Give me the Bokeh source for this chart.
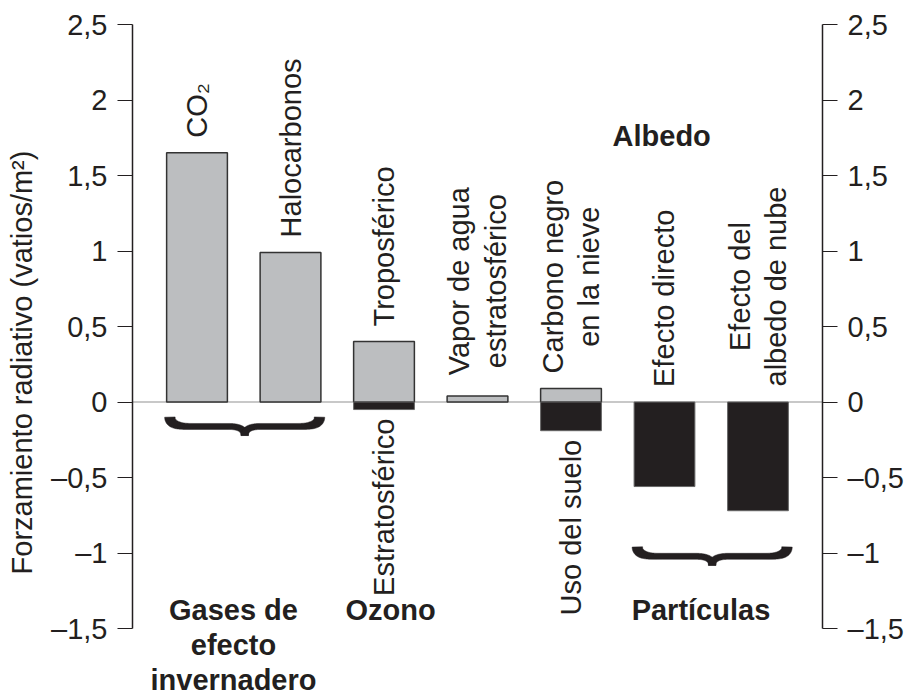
import numpy as np
from bokeh.plotting import figure
from bokeh.models import Range1d, LinearAxis, FixedTicker, Span
from bokeh.core.properties import value
from bokeh.embed import file_html
from bokeh.resources import INLINE

# ---------------- data ----------------
positions = [0, 1, 2, 3, 4, 5, 6]
warming = [1.65, 0.99, 0.40, 0.04, 0.09, 0.0, 0.0]      # grey bars (W/m2)
cooling = [0.0, 0.0, -0.05, 0.0, -0.19, -0.56, -0.72]   # black bars (W/m2)
upper_labels = ["CO₂", "Halocarbonos", "Troposférico", "Vapor de agua\nestratosférico",
                "Carbono negro\nen la nieve", "Efecto directo", "Efecto del\nalbedo de nube"]
lower_labels = ["", "", "Estratosférico", "", "Uso del suelo", "", ""]
group_names = ["Gases de\nefecto\ninvernadero", "Ozono", "Partículas"]
group_first = [0, 2, 5]
group_last = [1, 2, 6]
heading = "Albedo"
tick_values = [-1.5, -1.0, -0.5, 0.0, 0.5, 1.0, 1.5, 2.0, 2.5]
tick_labels = ["–1,5", "–1", "–0,5", "0", "0,5", "1", "1,5", "2", "2,5"]
y_title = "Forzamiento radiativo (vatios/m²)"

# ---------------- layout / style ----------------
INK = "#231f20"
GREY = "#bcbec0"
FONT = "Liberation Sans"
FS = "29px"
W, H = 906, 700
BL, BT, BB = 132, 24, 0
BR = W - 822
X0, X1 = -0.69, 6.69
Y1 = 2.5
PXU = 151.0
Y0 = Y1 - (H - BT - BB) / PXU
BAR_W = 0.65
PAD = 0.10
multi_centers = {3: 0.80, 4: 0.83, 6: 0.765}   # centre of two-line labels
group_label_x = [0.39, 2.07, 5.39]
group_label_y = -1.27
brace_top = {0: -0.10, 2: -0.96}
heading_xy = (4.97, 1.76)

p = figure(width=W, height=H, x_range=Range1d(X0, X1), y_range=Range1d(Y0, Y1),
           output_backend="svg", toolbar_location=None, x_axis_location=None,
           y_axis_location="left", min_border_left=BL, min_border_right=BR,
           min_border_top=BT, min_border_bottom=BB)
p.grid.visible = False
p.outline_line_color = None


def style_axis(ax):
    ax.ticker = FixedTicker(ticks=tick_values)
    ax.major_label_overrides = {v: l for v, l in zip(tick_values, tick_labels)}
    ax.bounds = (-1.5, 2.5)
    ax.axis_line_color = INK
    ax.axis_line_width = 1.5
    ax.major_tick_line_color = INK
    ax.major_tick_line_width = 1.2
    ax.major_tick_in = 0
    ax.major_tick_out = 15
    ax.minor_tick_line_color = None
    ax.major_label_standoff = 10
    ax.major_label_text_font = FONT
    ax.major_label_text_font_size = FS
    ax.major_label_text_color = INK


left = p.yaxis[0]
style_axis(left)
left.axis_label = y_title
left.axis_label_text_font = FONT
left.axis_label_text_font_size = FS
left.axis_label_text_font_style = "normal"
left.axis_label_text_color = INK
left.axis_label_standoff = 10

right = LinearAxis()
style_axis(right)
p.add_layout(right, "right")

p.add_layout(Span(location=0, dimension="width", line_color="#c8c8c8",
                  line_width=2, level="underlay"))

# bars
wx = [x for x, v in zip(positions, warming) if v != 0]
wv = [v for v in warming if v != 0]
p.vbar(x=wx, top=wv, bottom=0, width=BAR_W, fill_color=GREY,
       line_color="#333333", line_width=1.5)
cx = [x for x, v in zip(positions, cooling) if v != 0]
cv = [v for v in cooling if v != 0]
p.vbar(x=cx, top=0, bottom=cv, width=BAR_W, fill_color=INK,
       line_color="#666666", line_width=1)

# rotated labels above bars
s_x, s_y, s_t = [], [], []
m_x, m_y, m_t = [], [], []
for i, lab in enumerate(upper_labels):
    if "\n" in lab:
        m_x.append(positions[i]); m_y.append(multi_centers[i]); m_t.append(lab)
    else:
        s_x.append(positions[i]); s_y.append(max(warming[i], 0) + PAD); s_t.append(lab)
common = dict(angle=np.pi / 2, text_font=value(FONT), text_font_size=FS,
              text_color=INK, text_baseline="middle")
p.text(x=s_x, y=s_y, text=s_t, text_align="left", **common)
p.text(x=m_x, y=m_y, text=m_t, text_align="center", text_line_height=1.14, **common)

# rotated labels below bars
l_x = [positions[i] for i, t in enumerate(lower_labels) if t]
l_y = [cooling[i] - 0.06 for i, t in enumerate(lower_labels) if t]
l_t = [t for t in lower_labels if t]
p.text(x=l_x, y=l_y, text=l_t, text_align="right", **common)

# group labels
p.text(x=group_label_x, y=[group_label_y] * len(group_names), text=group_names,
       text_align="center", text_baseline="top", text_font=value(FONT),
       text_font_size=FS, text_font_style="bold", text_color=INK,
       text_line_height=1.09)
p.text(x=[heading_xy[0]], y=[heading_xy[1]], text=[heading], text_align="center",
       text_baseline="middle", text_font=value(FONT), text_font_size=FS,
       text_font_style="bold", text_color=INK)

# braces
sx = (W - BL - BR) / (X1 - X0)
sy = (H - BT - BB) / (Y1 - Y0)


def quad(p0, c, p1, n=40):
    t = np.linspace(0, 1, n)[:, None]
    return (1 - t) ** 2 * np.array(p0) + 2 * (1 - t) * t * np.array(c) + t ** 2 * np.array(p1)


def half_brace(Xa, Xc, Yt, Ym, Yp, sign):
    re, rc = 20.0, 16.0
    A = quad((Xa, Yt), (Xa, Ym), (Xa + sign * re, Ym))
    B = np.linspace((Xa + sign * re, Ym), (Xc - sign * rc, Ym), 40)
    C = quad((Xc - sign * rc, Ym), (Xc, Ym), (Xc, Yp))
    P = np.vstack([A, B[1:], C[1:]])
    d = np.gradient(P, axis=0)
    d /= np.linalg.norm(d, axis=1)[:, None]
    nrm = np.column_stack([-d[:, 1], d[:, 0]])
    seg = np.linalg.norm(np.diff(P, axis=0), axis=1)
    s = np.concatenate([[0], np.cumsum(seg)])
    L = s[-1]
    w = 6.0 + 4.5 * np.exp(-(s / 12.0) ** 2) + 1.5 * np.exp(-((L - s) / 8.0) ** 2)
    poly = np.vstack([P + nrm * w[:, None] / 2, (P - nrm * w[:, None] / 2)[::-1]])
    return poly[:, 0] / sx, poly[:, 1] / sy


bx, by = [], []
for g, (a, b) in enumerate(zip(group_first, group_last)):
    if g not in brace_top:
        continue
    top = brace_top[g]
    x0 = positions[a] - 0.29
    x1 = positions[b] + 0.31
    xc = (x0 + x1) / 2
    Yt, Ym, Yp = top * sy, (top - 0.062) * sy, (top - 0.122) * sy
    for Xa, sign in ((x0 * sx, 1), (x1 * sx, -1)):
        xs, ys = half_brace(Xa, xc * sx, Yt, Ym, Yp, sign)
        bx.append(list(xs)); by.append(list(ys))
p.patches(xs=bx, ys=by, fill_color=INK, line_color=INK, line_width=0.5)

open("out.html", "w").write(file_html(p, INLINE))
